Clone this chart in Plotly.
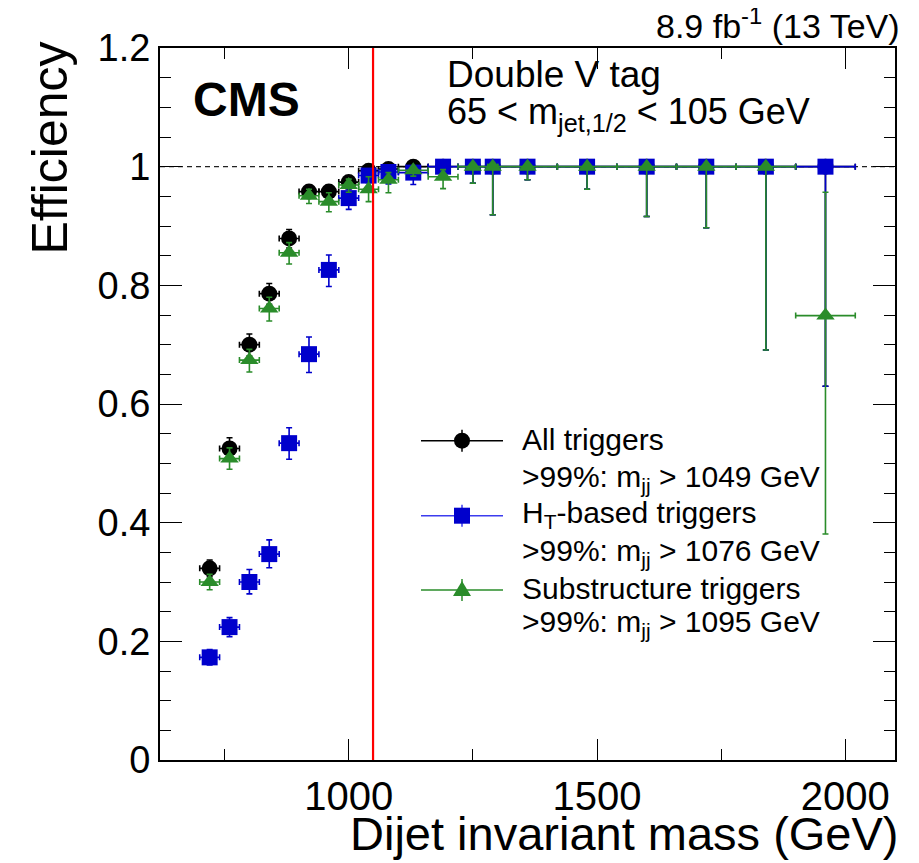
import plotly.graph_objects as go

# ---------------- data ----------------
mjj = [720, 760, 800, 840, 880, 920, 960, 1000, 1040, 1080,
       1130, 1190, 1250, 1290, 1360, 1480, 1600, 1720, 1840, 1960]
mjj_halfwidth = [20, 20, 20, 20, 20, 20, 20, 20, 20, 20,
                 30, 30, 30, 10, 60, 60, 60, 60, 60, 60]

eff_all = [0.323, 0.525, 0.700, 0.786, 0.879, 0.958, 0.958, 0.974, 0.993, 0.996,
           1.0, 1.0, 1.0, 1.0, 1.0, 1.0, 1.0, 1.0, 1.0, 1.0]
err_all_up = [0.014, 0.018, 0.018, 0.017, 0.015, 0.008, 0.008, 0.007, 0.004, 0.003,
              0, 0, 0, 0, 0, 0, 0, 0, 0, 0]
err_all_dn = [0.014, 0.018, 0.019, 0.018, 0.016, 0.010, 0.010, 0.009, 0.007, 0.006,
              0.004, 0.006, 0.028, 0.081, 0.022, 0.038, 0.084, 0.103, 0.309, 0.370]

eff_ht = [0.173, 0.224, 0.300, 0.347, 0.534, 0.684, 0.826, 0.947, 0.985, 0.991,
          0.990, 1.0, 1.0, 1.0, 1.0, 1.0, 1.0, 1.0, 1.0, 1.0]
err_ht_up = [0.013, 0.016, 0.021, 0.024, 0.026, 0.029, 0.025, 0.016, 0.008, 0.006,
             0.006, 0, 0, 0, 0, 0, 0, 0, 0, 0]
err_ht_dn = [0.013, 0.016, 0.020, 0.023, 0.027, 0.031, 0.028, 0.019, 0.012, 0.020,
             0.020, 0.006, 0.028, 0.081, 0.022, 0.038, 0.084, 0.103, 0.309, 0.370]

eff_sub = [0.300, 0.508, 0.674, 0.761, 0.855, 0.951, 0.941, 0.969, 0.962, 0.978,
           0.994, 0.983, 1.0, 1.0, 1.0, 1.0, 1.0, 1.0, 1.0, 0.749]
err_sub_up = [0.013, 0.018, 0.018, 0.019, 0.017, 0.011, 0.015, 0.010, 0.021, 0.012,
              0.005, 0.012, 0, 0, 0, 0, 0, 0, 0, 0.208]
err_sub_dn = [0.013, 0.018, 0.020, 0.021, 0.019, 0.013, 0.017, 0.012, 0.021, 0.022,
              0.010, 0.020, 0.028, 0.081, 0.022, 0.038, 0.084, 0.103, 0.309, 0.368]

series_names = ["All triggers", "H<sub>T</sub>-based triggers", "Substructure triggers"]
thresholds = [1049, 1076, 1095]

x_ticks = [1000, 1500, 2000]
y_ticks = [0, 0.2, 0.4, 0.6, 0.8, 1.0, 1.2]
y_ticklabels = ["0", "0.2", "0.4", "0.6", "0.8", "1", "1.2"]

# ---------------- style ----------------
FONT = "Liberation Sans, Arial, Helvetica, sans-serif"
BLACK = "#000000"
BLUE = "#0000cc"
GREEN = "#2a8c2a"

fig = go.Figure()


def add_series(y, up, dn, color, symbol, size, name):
    fig.add_trace(go.Scatter(
        x=mjj, y=y, mode="markers", name=name,
        marker=dict(color=color, symbol=symbol, size=size, line=dict(width=0)),
        error_y=dict(type="data", symmetric=False, array=up, arrayminus=dn,
                     color=color, thickness=1.6, width=3),
        error_x=dict(type="data", array=mjj_halfwidth, color=color,
                     thickness=1.6, width=3),
        showlegend=False,
    ))


add_series(eff_all, err_all_up, err_all_dn, BLACK, "circle", 16, series_names[0])
add_series(eff_ht, err_ht_up, err_ht_dn, BLUE, "square", 16, series_names[1])
add_series(eff_sub, err_sub_up, err_sub_dn, GREEN, "triangle-up", 16, series_names[2])

shapes = []
# dashed reference line at efficiency 1
shapes.append(dict(type="line", xref="paper", yref="y", x0=0, x1=1, y0=1, y1=1,
                   line=dict(color="#222222", width=1.3, dash="5px,4px"), layer="below"))
# red threshold line
shapes.append(dict(type="line", xref="x", yref="paper", x0=thresholds[0], x1=thresholds[0],
                   y0=0, y1=1, line=dict(color="#ff0000", width=2.2)))

# ---------------- geometry (window pixels; page body has an 8px margin) ----------------
BODY = 8
WIN_W, WIN_H = 919, 863
PLOT_L, PLOT_R, PLOT_T, PLOT_B = 160, 895, 48, 760
PW, PH = PLOT_R - PLOT_L, PLOT_B - PLOT_T
FIG_W, FIG_H = WIN_W - BODY, WIN_H - BODY


def px(xp):
    return (xp - PLOT_L) / PW


def py(yp):
    return (PLOT_B - yp) / PH


# ---------------- manual legend ----------------
leg_rows = [440.7, 515.7, 590.0]
leg_colors = [BLACK, "#3c3cee", GREEN]
leg_x0, leg_x1, leg_xm = 421, 503, 462
for i, yr in enumerate(leg_rows):
    shapes.append(dict(type="line", xref="paper", yref="paper", x0=px(leg_x0), x1=px(leg_x1),
                       y0=py(yr), y1=py(yr), line=dict(color=leg_colors[i], width=1.5)))
    shapes.append(dict(type="line", xref="paper", yref="paper", x0=px(leg_xm), x1=px(leg_xm),
                       y0=py(yr - 11), y1=py(yr + 11), line=dict(color=leg_colors[i], width=1.5)))

shapes.append(dict(type="circle", xref="paper", yref="paper", xsizemode="pixel", ysizemode="pixel",
                   xanchor=px(leg_xm), yanchor=py(leg_rows[0]), x0=-8, x1=8, y0=-8, y1=8,
                   fillcolor=BLACK, line=dict(width=0)))
shapes.append(dict(type="rect", xref="paper", yref="paper", xsizemode="pixel", ysizemode="pixel",
                   xanchor=px(leg_xm), yanchor=py(leg_rows[1]), x0=-8, x1=8, y0=-8, y1=8,
                   fillcolor=BLUE, line=dict(width=0)))
shapes.append(dict(type="path", xref="paper", yref="paper", xsizemode="pixel", ysizemode="pixel",
                   xanchor=px(leg_xm), yanchor=py(leg_rows[2]),
                   path="M -9,-6 L 9,-6 L 0,9 Z",
                   fillcolor=GREEN, line=dict(width=0)))

annotations = []
leg_text_rows = [439, 478, 514, 552, 588, 623]
leg_texts = [
    series_names[0],
    f"&gt;99%: m<sub>jj</sub> &gt; {thresholds[0]} GeV",
    series_names[1],
    f"&gt;99%: m<sub>jj</sub> &gt; {thresholds[1]} GeV",
    series_names[2],
    f"&gt;99%: m<sub>jj</sub> &gt; {thresholds[2]} GeV",
]
for t, yr in zip(leg_texts, leg_text_rows):
    annotations.append(dict(text=t, xref="paper", yref="paper", x=px(520), y=py(yr),
                            xanchor="left", yanchor="middle", showarrow=False,
                            font=dict(family=FONT, size=30, color="black")))

# CMS label & other texts
annotations += [
    dict(text="<b>CMS</b>", xref="paper", yref="paper", x=px(191), y=py(99),
         xanchor="left", yanchor="middle", showarrow=False,
         font=dict(family=FONT, size=48, color="black")),
    dict(text="Double V tag", xref="paper", yref="paper", x=px(445), y=py(75),
         xanchor="left", yanchor="middle", showarrow=False,
         font=dict(family=FONT, size=37, color="black")),
    dict(text="65 &lt; m<sub>jet,1/2</sub> &lt; 105 GeV", xref="paper", yref="paper",
         x=px(445), y=py(114), xanchor="left", yanchor="middle", showarrow=False,
         font=dict(family=FONT, size=36, color="black")),
    dict(text="8.9 fb<sup>-1</sup> (13 TeV)", xref="paper", yref="paper",
         x=px(901), y=py(23), xanchor="right", yanchor="middle", showarrow=False,
         borderpad=0, font=dict(family=FONT, size=34, color="black")),
    dict(text="Dijet invariant mass (GeV)", xref="paper", yref="paper",
         x=px(901), y=py(833), xanchor="right", yanchor="middle", showarrow=False,
         font=dict(family=FONT, size=47, color="black")),
    dict(text="Efficiency", xref="paper", yref="paper", textangle=-90,
         x=px(50), y=py(40), xanchor="center", yanchor="top", showarrow=False,
         font=dict(family=FONT, size=50, color="black")),
]

fig.update_layout(
    width=FIG_W, height=FIG_H,
    margin=dict(l=PLOT_L - BODY, r=FIG_W - (PLOT_R - BODY), t=PLOT_T - BODY,
                b=FIG_H - (PLOT_B - BODY), pad=0),
    paper_bgcolor="white", plot_bgcolor="white",
    shapes=shapes, annotations=annotations,
    showlegend=False,
    font=dict(family=FONT, color="black"),
)
fig.update_xaxes(
    range=[620, 2100], tickvals=x_ticks, ticktext=[str(v) for v in x_ticks],
    ticks="inside", ticklen=21, tickwidth=1.3, tickcolor="black",
    minor=dict(tickvals=[750, 1250, 1750], ticks="inside", ticklen=11,
               tickwidth=1.3, tickcolor="black", showgrid=False),
    showline=True, linecolor="black", linewidth=2, mirror="allticks",
    showgrid=False, zeroline=False,
    tickfont=dict(family=FONT, size=40, color="black"),
)
fig.update_yaxes(
    range=[0, 1.2], tickvals=y_ticks, ticktext=y_ticklabels,
    ticks="inside", ticklen=22, tickwidth=1.3, tickcolor="black",
    minor=dict(dtick=0.05, ticks="inside", ticklen=11, tickwidth=1.3,
               tickcolor="black", showgrid=False),
    showline=True, linecolor="black", linewidth=2, mirror="allticks",
    showgrid=False, zeroline=False,
    tickfont=dict(family=FONT, size=38, color="black"),
)

fig.write_html("out.html")
